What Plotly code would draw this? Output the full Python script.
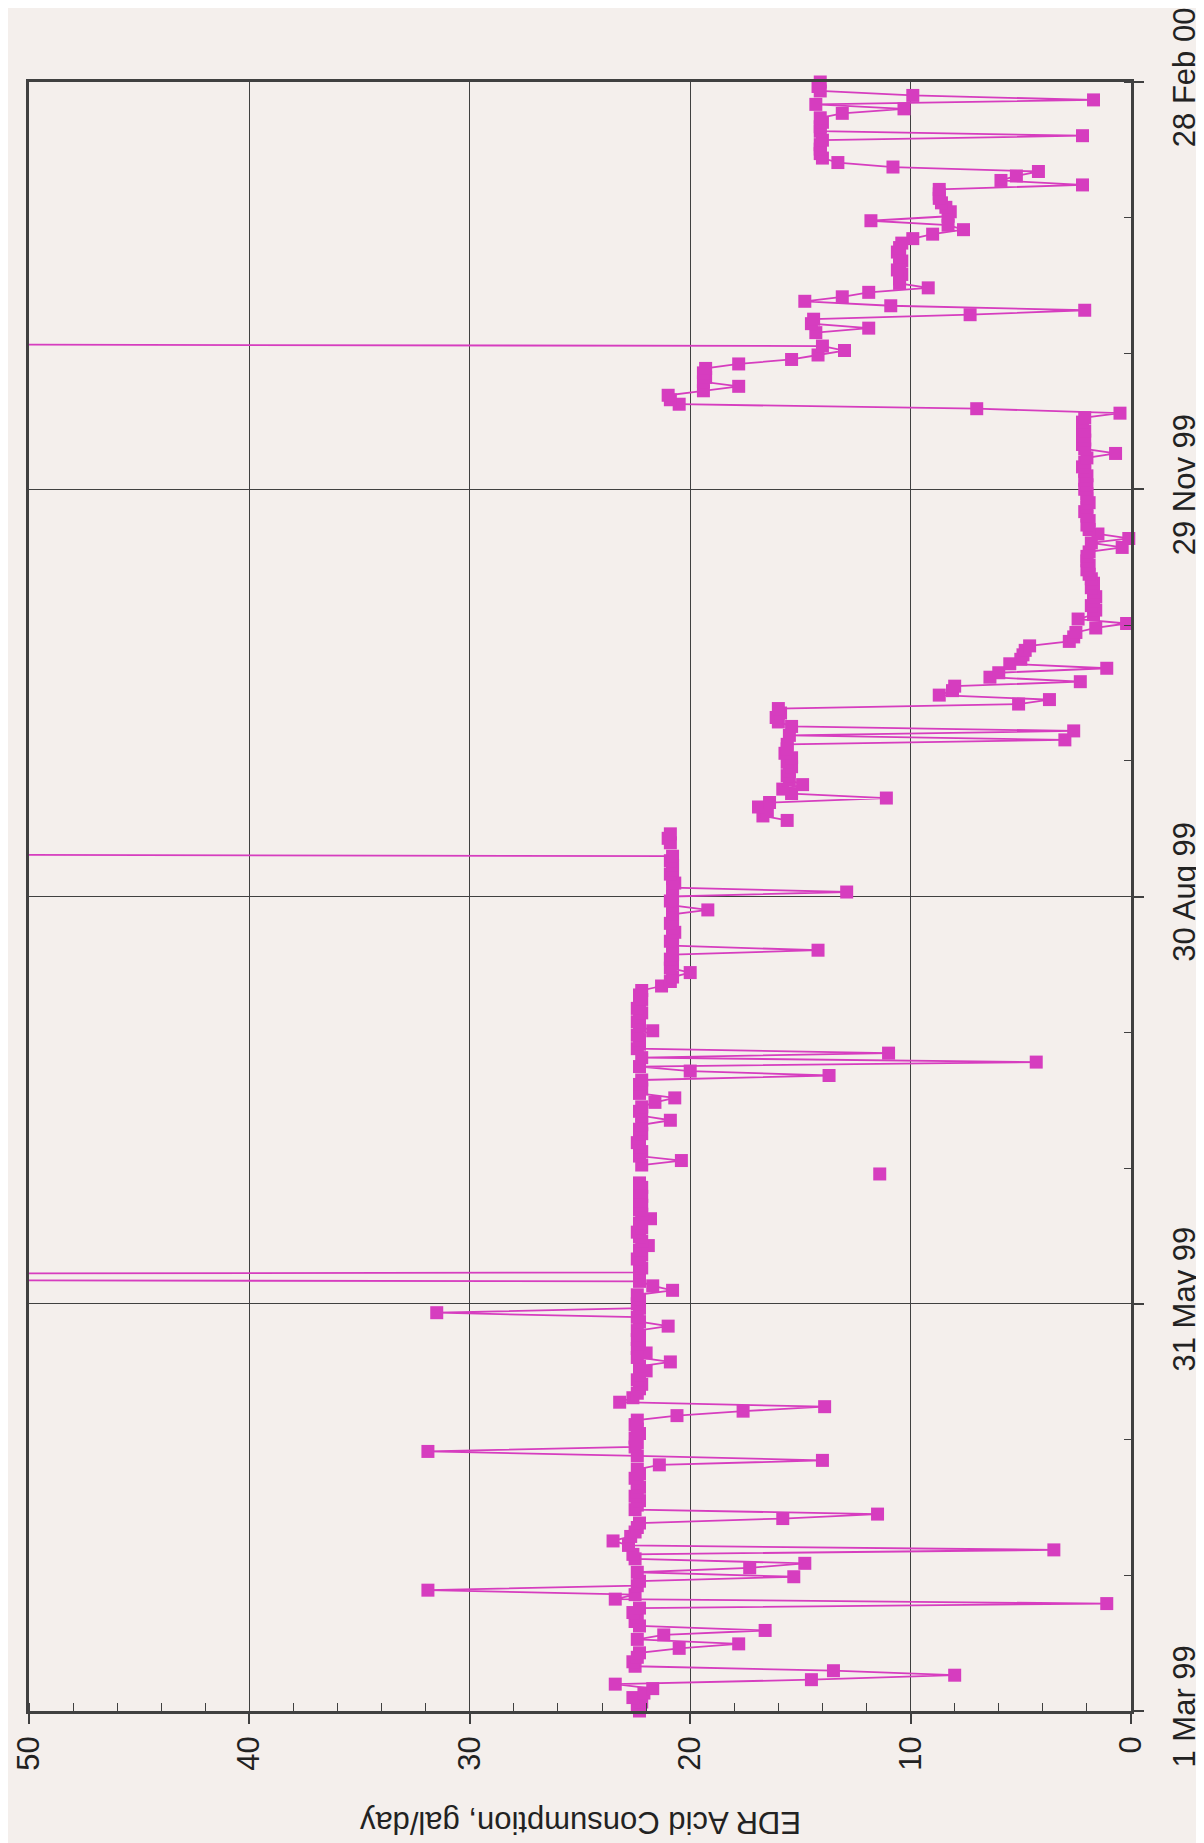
import pandas as pd
import plotly.graph_objects as go

# ---------- Data (daily readings, 1 Mar 99 -> 28 Feb 00) ----------
start_date = "1999-03-01"

# 1 Mar 99 .. 30 May 99
q1_values = [
    22.3, 22.4, 22.2, 22.6, 22.1, 21.7, 23.4, 14.5, 8.0, 13.5,
    22.5, 22.6, 22.4, 22.3, 20.5, 17.8, 22.4, 21.2, 16.6, 22.3,
    22.5, 22.4, 22.6, 22.3, 1.1, 23.4, 22.5, 31.9, 22.4, 22.3,
    15.3, 22.4, 17.3, 14.8, 22.5, 22.6, 3.5, 22.8, 23.5, 22.7,
    22.5, 22.4, 22.3, 15.8, 11.5, 22.5, 22.4, 22.3, 22.5, 22.4,
    22.3, 22.4, 22.5, 22.3, 22.4, 21.4, 14.0, 22.4, 31.9, 22.5,
    22.4, 22.5, 22.3, 22.4, 22.5, 22.4, 20.6, 17.6, 13.9, 23.2,
    22.6, 22.4, 22.3, 22.2, 22.4, 22.3, 22.0, 22.3, 20.9, 22.4,
    22.0, 22.4, 22.3, 22.4, 22.3, 22.4, 21.0, 22.3, 22.4, 31.5,
    22.3,
]

# 31 May 99 .. 29 Aug 99
q2_values = [
    22.4, 22.3, 22.4, 20.8, 21.7, 22.3, 150.0, 22.3, 22.2,
    22.3, 22.4, 22.2, 22.3, 21.9, 22.2, 22.3, 22.4, 22.2, 22.3,
    21.8, 22.2, 22.3, 22.2, 22.3, 22.2, 22.3, 22.2, 22.3, None,
    11.4, None, 22.2, 20.4, 22.3, 22.2, 22.3, 22.4, 22.3, 22.2,
    22.3, 22.2, 20.9, 22.2, 22.3, 22.2, 21.6, 20.7, 22.3, 22.2,
    22.3, 22.2, 13.7, 20.0, 22.3, 4.3, 22.2, 11.0, 22.4, 22.3,
    22.3, 22.4, 21.7, 22.3, 22.4, 22.3, 22.2, 22.4, 22.3, 22.2,
    22.3, 22.2, 21.3, 20.9, 20.8, 20.0, 20.9, 20.8, 20.9, 20.8,
    14.2, 20.8, 20.9, 20.8, 20.7, 20.8, 20.9, 20.8, 20.8, 19.2,
    20.8, 20.9,
]

# 30 Aug 99 .. 28 Nov 99
q3_values = [
    20.8, 12.9, 20.8, 20.7, 20.8, 20.9, 20.8, 20.8,
    20.9, 20.8, 120.0, None, 20.9, 21.0, 20.9, None, None, 15.6,
    16.7, 16.5, 16.9, 16.4, 11.1, 15.4, 15.8, 14.9, 15.5, 15.6,
    15.5, 15.4, 15.6, 15.4, 15.7, 15.6, 15.6, 3.0, 15.5, 2.6,
    15.4, 16.0, 16.1, 15.9, 16.0, 5.1, 3.7, 8.7, 8.1, 8.0,
    2.3, 6.4, 6.0, 1.1, 5.5, 5.0, 4.9, 4.8, 4.6, 2.8,
    2.6, 2.5, 1.6, 0.2, 2.4, 1.7, 1.6, 1.8, 1.7, 1.6,
    1.7, 1.8, 1.7, 1.8, 1.9, 2.0, 1.9, 2.0, 2.0, 1.9,
    0.4, 1.8, 0.1, 1.5, 1.9, 2.0, 1.9, 2.0, 2.1, 2.0,
    1.9, 2.0, 2.0,
]

# 29 Nov 99 .. 28 Feb 00
q4_values = [
    2.1, 2.0, 2.1, 2.0, 2.1, 2.2, 2.1,
    2.0, 0.7, 2.1, 2.2, 2.1, 2.2, 2.1, 2.2, 2.2, 2.1,
    0.5, 7.0, 20.5, 20.9, 21.0, 19.4, 17.8, 19.4, 19.3, 19.4,
    19.3, 17.8, 15.4, 14.2, 13.0, 14.0, 130.0, None, 14.3, 11.9,
    14.5, 14.4, 7.3, 2.1, 10.9, 14.8, 13.1, 11.9, 9.2, 10.5,
    10.5, 10.4, 10.6, 10.5, 10.4, 10.5, 10.6, 10.5, 10.4, 9.9,
    9.0, 7.6, 8.3, 11.8, 8.3, 8.2, 8.4, 8.6, 8.7, 8.7,
    8.7, 2.2, 5.9, 5.2, 4.2, 10.8, 13.3, 14.0, 14.1, 14.1,
    14.1, 14.0, 2.2, 14.1, 14.1, 14.0, 14.1, 13.1, 10.3, 14.3,
    1.7, 9.9, 14.1, 14.2, 14.1,
]

date_ticks = ["1999-03-01", "1999-05-31", "1999-08-30", "1999-11-29", "2000-02-28"]
date_labels = ["1 Mar 99", "31 May 99", "30 Aug 99", "29 Nov 99", "28 Feb 00"]
value_ticks = [0, 10, 20, 30, 40, 50]

values = q1_values + q2_values + q3_values + q4_values
dates = pd.date_range(start_date, periods=len(values), freq="D")

MAGENTA = "#d63dbf"
PAPER = "#f4efec"
INK = "#404040"
DAY_MS = 86400000

# ---------- Figure (page is turned on its side: values run right->left, dates bottom->top) ----------
fig = go.Figure(
    go.Scatter(
        x=values,
        y=dates,
        mode="lines+markers",
        line=dict(color=MAGENTA, width=1.8),
        marker=dict(symbol="square", size=13, color=MAGENTA),
        connectgaps=False,
        cliponaxis=False,
        showlegend=False,
    )
)

fig.update_layout(
    width=1204,
    height=1843,
    margin=dict(l=21, r=81, t=74, b=140),
    paper_bgcolor=PAPER,
    plot_bgcolor=PAPER,
    font=dict(family="Liberation Sans, Arial, sans-serif", color="#222"),
)

fig.update_xaxes(
    automargin=False,
    range=[50, 0],
    tickmode="array",
    tickvals=value_ticks,
    tickangle=-90,
    tickfont=dict(size=31),
    ticklabeloverflow="allow",
    ticks="outside",
    ticklen=10,
    tickwidth=1.5,
    tickcolor=INK,
    ticklabelstandoff=0,
    showgrid=True,
    gridcolor=INK,
    gridwidth=1.3,
    showline=True,
    linecolor=INK,
    linewidth=2.5,
    mirror=True,
    zeroline=False,
    minor=dict(dtick=2, ticks="inside", ticklen=8, tickwidth=1.3, tickcolor=INK, showgrid=False),
)

fig.update_yaxes(
    automargin=False,
    type="date",
    side="right",
    range=[date_ticks[0], date_ticks[-1]],
    tickmode="array",
    tickvals=date_ticks,
    ticktext=date_labels,
    tickangle=-90,
    tickfont=dict(size=31),
    ticklabeloverflow="allow",
    ticks="outside",
    ticklen=10,
    tickwidth=1.5,
    tickcolor=INK,
    ticklabelstandoff=14,
    showgrid=True,
    gridcolor=INK,
    gridwidth=1.3,
    showline=True,
    linecolor=INK,
    linewidth=2.5,
    mirror=True,
    zeroline=False,
    minor=dict(
        tickmode="linear",
        tick0=date_ticks[0],
        dtick=91 / 3 * DAY_MS,
        ticks="inside",
        ticklen=7,
        tickwidth=1.3,
        tickcolor=INK,
        showgrid=False,
    ),
)

# axis title reads upside down on the turned page
fig.add_annotation(
    text="EDR Acid Consumption, gal/day",
    xref="paper", yref="paper",
    x=0.5, y=-0.068,
    showarrow=False,
    textangle=180,
    font=dict(size=31, color="#222"),
    xanchor="center", yanchor="middle",
)

fig.write_html("out.html")
